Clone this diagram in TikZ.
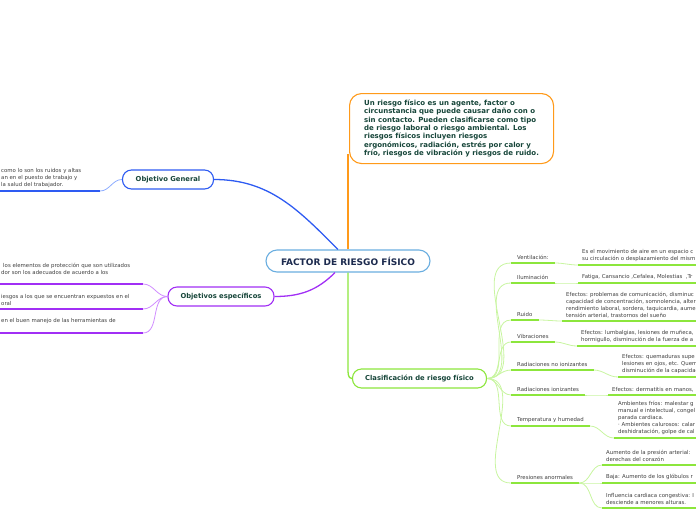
\documentclass[tikz,border=0pt]{standalone}
\usepackage{fontspec}
\setmainfont{DejaVu Sans}

\definecolor{texto}{HTML}{17463A}
\definecolor{marino}{HTML}{1C2A4E}
\definecolor{gris}{HTML}{3F3F3F}
\definecolor{azul}{HTML}{2E5BF2}
\definecolor{azulclaro}{HTML}{8EADFF}
\definecolor{celeste}{HTML}{6AAEE0}
\definecolor{naranja}{HTML}{FF9A1A}
\definecolor{morado}{HTML}{A12FF5}
\definecolor{moradoclaro}{HTML}{D08CFF}
\definecolor{verde}{HTML}{8CE63C}
\definecolor{verdeclaro}{HTML}{C8F5A0}

\begin{document}
\begin{tikzpicture}[
    x=1pt, y=-1pt,
    font=\fontsize{5.4}{7}\selectfont,
    tema/.style={draw, fill=white, rounded corners=9pt, line width=1.1pt,
      text=texto, font=\bfseries\fontsize{6.8}{8}\selectfont,
      minimum height=19pt, inner sep=0pt},
    nota/.style={anchor=south west, align=left, text=gris,
      inner xsep=4pt, inner ysep=3pt},
    etiqueta/.style={nota, inner xsep=6pt},
    rama/.style={line width=0.8pt},
    raya/.style={line width=2.2pt},
  ]

  \useasboundingbox (0,0) rectangle (696,520);
  \clip (0,0) rectangle (696,520);
  \coordinate (borde) at (696,0);

  % --- nodo central e definizione ------------------------------------
  \node[tema, draw=celeste, text=marino, font=\bfseries\fontsize{9}{10}\selectfont,
        minimum width=164pt, minimum height=22pt, rounded corners=11pt]
        (fr) at (348,261) {FACTOR DE RIESGO FÍSICO};

  \node[draw=naranja, fill=white, rounded corners=12pt, line width=1.1pt,
        text=texto, font=\bfseries\fontsize{7}{8.3}\selectfont, align=left,
        minimum width=204pt, minimum height=70pt, anchor=north west]
        (def) at (349,93) {Un riesgo físico es un agente, factor o\\
        circunstancia que puede causar daño con o\\
        sin contacto. Pueden clasificarse como tipo\\
        de riesgo laboral o riesgo ambiental. Los\\
        riesgos físicos incluyen riesgos\\
        ergonómicos, radiación, estrés por calor y\\
        frío, riesgos de vibración y riesgos de ruido.};
  \draw[naranja, line width=1.4pt] (fr.north) -- ([yshift=10pt]fr.north |- def.south);

  % --- objetivo general ----------------------------------------------
  \node[tema, draw=azul, minimum width=91pt] (og) at (168,179.5) {Objetivo General};
  \coordinate (ogfin) at (100,191);
  \node[nota, inner xsep=1pt] (ogtxt) at (0,191)
    {como lo son los ruidos y altas\\an en el puesto de trabajo y\\la salud del trabajador.};
  \draw[raya, azul] (ogtxt.south west) -- (ogfin);
  \draw[rama, azulclaro] (og.west) to[out=180,in=0] (ogfin);
  \draw[azul, line width=1.3pt] (og.east) to[out=0,in=135] ([xshift=-10pt]fr.north);

  % --- objetivos especificos -----------------------------------------
  \node[tema, draw=morado, minimum width=106pt] (os) at (221,296.5) {Objetivos específicos};
  \coordinate (osa) at (143,284);
  \coordinate (osb) at (143,309);
  \coordinate (osc) at (143,333);
  \node[nota, inner xsep=1pt, inner ysep=9pt] (osta) at (0,284)
    {\hspace{2pt}los elementos de protección que son utilizados\\dor son los adecuados de acuerdo a los};
  \node[nota, inner xsep=1pt] (ostb) at (0,309)
    {iesgos a los que se encuentran expuestos en el\\oral};
  \node[nota, inner xsep=1pt, inner ysep=9pt] (ostc) at (0,333)
    {en el buen manejo de las herramientas de};
  \foreach \t/\c in {osta/osa, ostb/osb, ostc/osc}{%
    \draw[raya, morado] (\t.south west) -- (\c);
    \draw[rama, moradoclaro] (os.west) to[out=180,in=0] (\c);
  }
  \draw[morado, line width=1.3pt] (os.east) to[out=0,in=-135] ([xshift=-13pt]fr.south);

  % --- clasificacion ---------------------------------------------------
  \node[tema, draw=verde, minimum width=134pt] (cl) at (419.5,378.5) {Clasificación de riesgo físico};
  \draw[verde, line width=1.3pt] (fr.south) -- (fr.south |- cl.north) to[out=-90,in=180] (cl.west);

  \node[etiqueta] (ven) at (511,263) {Ventilación:};
  \node[nota] (venD) at (578,265)
    {Es el movimiento de aire en un espacio c\\su circulación o desplazamiento del mism};
  \node[etiqueta] (ilu) at (511,283) {Iluminación};
  \node[nota] (iluD) at (578,283) {Fatiga, Cansancio ,Cefalea, Molestias~ ,Tr};
  \node[etiqueta] (rui) at (511,320) {Ruido};
  \node[nota] (ruiD) at (562,321)
    {Efectos: problemas de comunicación, disminuc\\capacidad de concentración, somnolencia, alter\\
     rendimiento laboral, sordera, taquicardia, aume\\tensión arterial, trastornos del sueño};
  \node[etiqueta] (vib) at (511,342) {Vibraciones};
  \node[nota] (vibD) at (577,346)
    {Efectos: lumbalgias, lesiones de muñeca,\\hormigullo, disminución de la fuerza de a};
  \node[etiqueta] (rni) at (511,370) {Radiaciones no ionizantes};
  \node[nota] (rniD) at (618,377)
    {Efectos: quemaduras supe\\lesiones en ojos, etc. Quem\\disminución de la capacidad};
  \node[etiqueta] (rio) at (511,395) {Radiaciones ionizantes};
  \node[nota] (rioD) at (608,395) {Efectos: dermatitis en manos,};
  \node[etiqueta] (tem) at (511,426) {Temperatura y humedad};
  \node[nota] (temD) at (614,438)
    {Ambientes fríos: malestar g\\manual e intelectual, congel\\parada cardiaca.\\
     · Ambientes calurosos: calar\\deshidratación, golpe de cal};
  \node[etiqueta] (pre) at (511,483) {Presiones anormales};
  \node[nota] (preA) at (602,465) {Aumento de la presión arterial:\\derechas del corazón};
  \node[nota] (preB) at (602,483) {Baja: Aumento de los glóbulos r};
  \node[nota] (preC) at (602,508) {Influencia cardiaca congestiva: I\\desciende a menores alturas.};

  \foreach \e in {ven,ilu,rui,vib,rni,rio,tem,pre}{%
    \draw[rama, verdeclaro] (cl.east) to[out=0,in=180] (\e.south west);
  }
  \foreach \e/\d in {ven/venD, ilu/iluD, rui/ruiD, vib/vibD, rni/rniD,
                     rio/rioD, tem/temD, pre/preA, pre/preB, pre/preC}{%
    \draw[rama, verdeclaro] (\e.south east) to[out=0,in=180] (\d.south west);
    \draw[raya, verde] (\e.south west) -- (\e.south east);
    \draw[raya, verde] (\d.south west) -- (\d.south west -| borde);
  }

\end{tikzpicture}
\end{document}
